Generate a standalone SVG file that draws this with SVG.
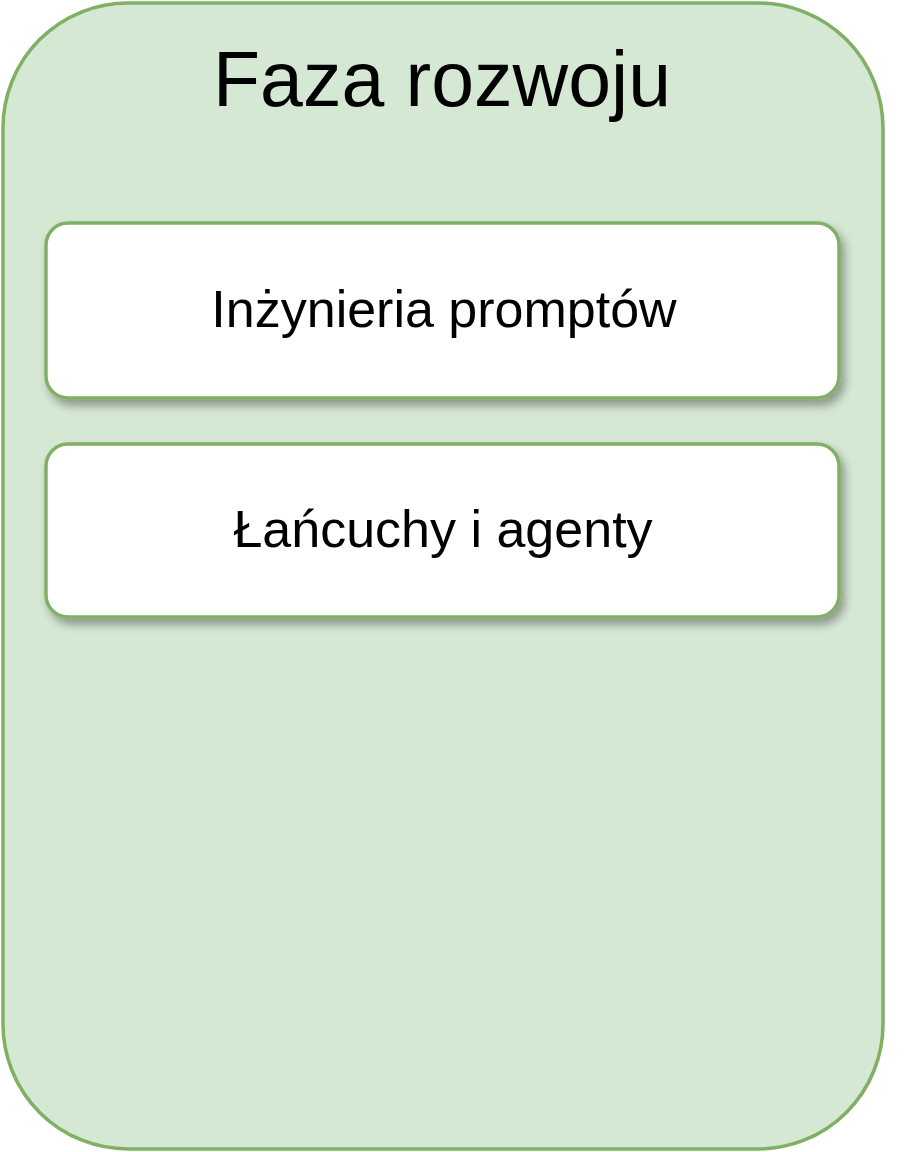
<svg xmlns="http://www.w3.org/2000/svg" width="922" height="1152" viewBox="0 0 922 1152">
  <defs>
    <filter id="shadow" x="-10%" y="-20%" width="120%" height="150%">
      <feGaussianBlur in="SourceAlpha" stdDeviation="5"/>
      <feOffset dx="4" dy="6" result="b"/>
      <feComponentTransfer><feFuncA type="linear" slope="0.35"/></feComponentTransfer>
      <feMerge><feMergeNode/><feMergeNode in="SourceGraphic"/></feMerge>
    </filter>
  </defs>
  <style>
    .container { fill: #d5e8d4; stroke: #7fb063; stroke-width: 3.5; }
    .node { fill: #ffffff; stroke: #7fb063; stroke-width: 3.5; filter: url(#shadow); }
    .title { font-family: "Liberation Sans", Arial, sans-serif; font-size: 77px; fill: #000000; text-anchor: middle; }
    .label { font-family: "Liberation Sans", Arial, sans-serif; font-size: 52px; fill: #000000; text-anchor: middle; }
  </style>
  <rect width="922" height="1152" fill="#ffffff"/>
  <g id="container">
    <rect class="container" x="3" y="3" width="880" height="1146" rx="125" ry="125"/>
    <text class="title" x="442" y="106">Faza rozwoju</text>
  </g>
  <g id="node-prompt">
    <rect class="node" x="46" y="223" width="793" height="175" rx="22" ry="22"/>
    <text class="label" x="444" y="327">Inżynieria promptów</text>
  </g>
  <g id="node-chains">
    <rect class="node" x="46" y="444" width="793" height="173" rx="22" ry="22"/>
    <text class="label" x="443" y="547">Łańcuchy i agenty</text>
  </g>
  <g id="connectors"></g>
</svg>
